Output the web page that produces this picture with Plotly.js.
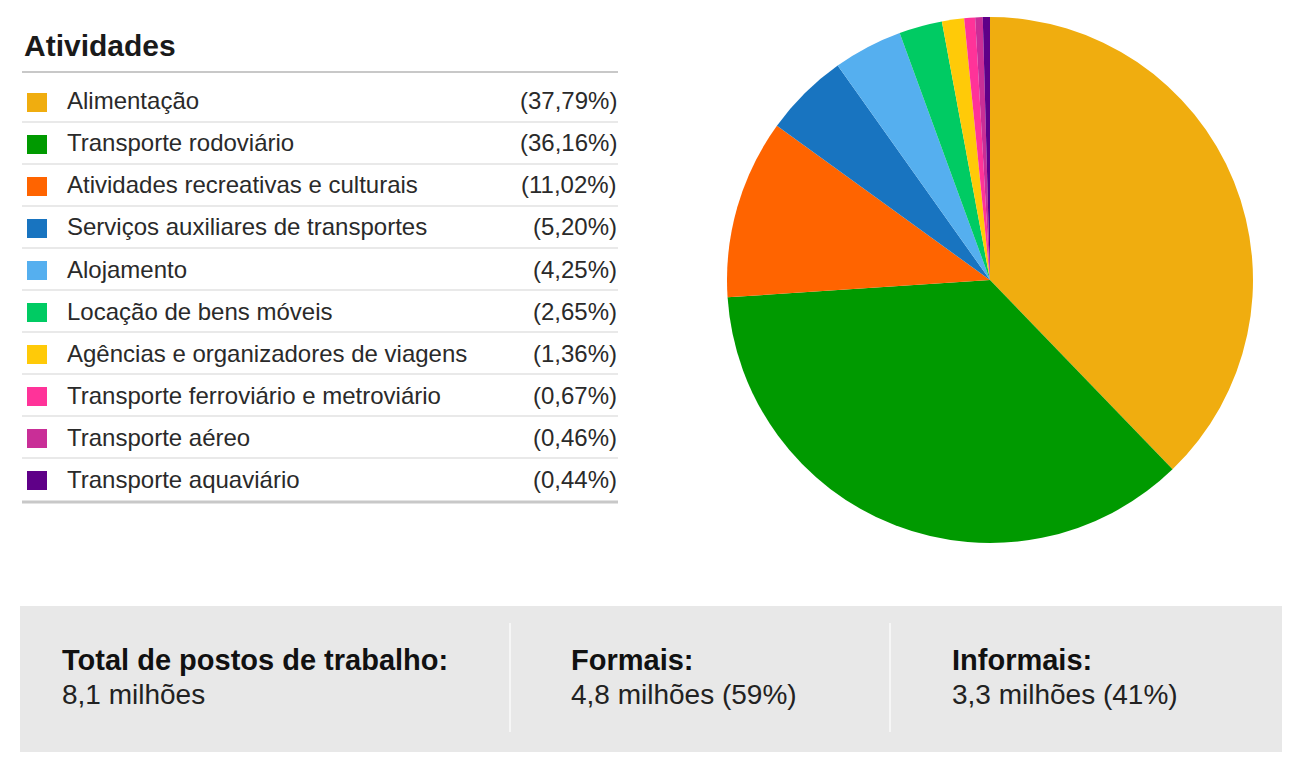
<!DOCTYPE html>
<html>
<head>
<meta charset="utf-8">
<script src="https://cdn.plot.ly/plotly-3.0.1.min.js"></script>
<style>
html,body{margin:0;padding:0;background:#fff;}
#chart{width:1302px;height:763px;}
</style>
</head>
<body>
<div id="chart"></div>
<script>
// ---- data ----
const categories = [
  "Alimentação",
  "Transporte rodoviário",
  "Atividades recreativas e culturais",
  "Serviços auxiliares de transportes",
  "Alojamento",
  "Locação de bens móveis",
  "Agências e organizadores de viagens",
  "Transporte ferroviário e metroviário",
  "Transporte aéreo",
  "Transporte aquaviário"
];
const shares = [37.79, 36.16, 11.02, 5.20, 4.25, 2.65, 1.36, 0.67, 0.46, 0.44];
const colors = ["#F0AD0F","#009A00","#FF6400","#1874C0","#55AFEF","#00CB63","#FFCA08","#FF3399","#C92E97","#5F0088"];
const legendTitle = "Atividades";
const summaryLabels = ["Total de postos de trabalho:", "Formais:", "Informais:"];
const summaryValues = ["8,1 milhões", "4,8 milhões (59%)", "3,3 milhões (41%)"];

// ---- layout helpers (pixel -> paper) ----
const W = 1302, H = 763;
const px = x => x / W;
const py = y => 1 - y / H;
const FONT = 'Liberation Sans, Arial, sans-serif';

const shapes = [];
const annotations = [];

// legend title
annotations.push({xref:'paper',yref:'paper',x:px(22),y:py(46),xanchor:'left',yanchor:'middle',
  text:'<b>'+legendTitle+'</b>',showarrow:false,font:{family:FONT,size:30,color:'#1a1a1a'}});
shapes.push({type:'line',xref:'paper',yref:'paper',x0:px(22),x1:px(618),y0:py(72),y1:py(72),line:{color:'#C8C8C8',width:2}});

const rowY0 = 101, rowStep = 42;
categories.forEach((c,i)=>{
  const y = rowY0 + i*rowStep;
  shapes.push({type:'rect',xref:'paper',yref:'paper',x0:px(27),x1:px(47),y0:py(y-8),y1:py(y+11),
    fillcolor:colors[i],line:{width:0}});
  annotations.push({xref:'paper',yref:'paper',x:px(65),y:py(y),xanchor:'left',yanchor:'middle',
    text:c,showarrow:false,font:{family:FONT,size:24,color:'#2a2a2a'}});
  annotations.push({xref:'paper',yref:'paper',x:px(619),y:py(y),xanchor:'right',yanchor:'middle',
    text:'('+shares[i].toFixed(2).replace('.',',')+'%)',showarrow:false,font:{family:FONT,size:24,color:'#2a2a2a'}});
  const sepY = y + 21;
  const last = i === categories.length-1;
  shapes.push({type:'line',xref:'paper',yref:'paper',x0:px(22),x1:px(618),y0:py(last?sepY+2:sepY),y1:py(last?sepY+2:sepY),
    line:{color:last?'#C8C8C8':'#E2E2E2',width:last?3:1.5}});
});

// summary box
shapes.push({type:'rect',xref:'paper',yref:'paper',x0:px(20),x1:px(1282),y0:py(606),y1:py(752),fillcolor:'#E8E8E8',line:{width:0},layer:'below'});
[510,890].forEach(x=>{
  shapes.push({type:'line',xref:'paper',yref:'paper',x0:px(x),x1:px(x),y0:py(623),y1:py(732),line:{color:'#F6F6F6',width:2}});
});
const sumX = [60,569,950];
summaryLabels.forEach((t,i)=>{
  annotations.push({xref:'paper',yref:'paper',x:px(sumX[i]),y:py(660),xanchor:'left',yanchor:'middle',
    text:'<b>'+t+'</b>',showarrow:false,font:{family:FONT,size:29,color:'#111'}});
  annotations.push({xref:'paper',yref:'paper',x:px(sumX[i]),y:py(694),xanchor:'left',yanchor:'middle',
    text:summaryValues[i],showarrow:false,font:{family:FONT,size:28,color:'#222'}});
});

const trace = {
  type:'pie',
  labels:categories,
  values:shares,
  marker:{colors:colors,line:{width:0}},
  sort:false,
  direction:'clockwise',
  rotation:0,
  textinfo:'none',
  hoverinfo:'label+percent',
  showlegend:false,
  domain:{x:[px(727),px(1253)],y:[py(543),py(17)]}
};

Plotly.newPlot('chart',[trace],{
  width:W,height:H,
  margin:{l:0,r:0,t:0,b:0},
  paper_bgcolor:'#fff',
  showlegend:false,
  shapes:shapes,
  annotations:annotations
},{displayModeBar:false,staticPlot:true});
</script>
</body>
</html>
